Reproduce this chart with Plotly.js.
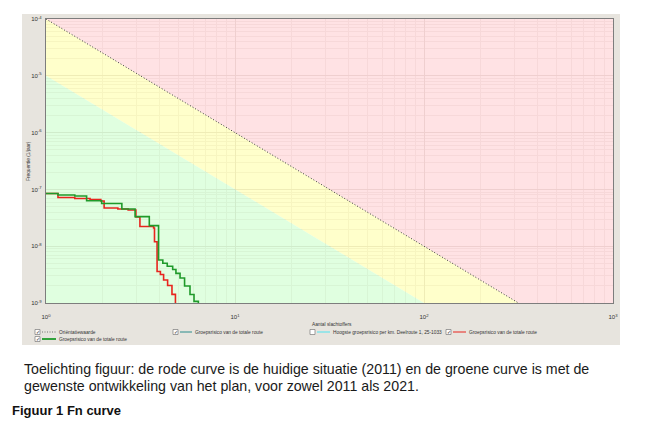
<!DOCTYPE html>
<html>
<head>
<meta charset="utf-8">
<script src="https://cdn.plot.ly/plotly-3.0.1.min.js"></script>
<style>
  html, body { margin: 0; padding: 0; background: #ffffff; }
  #chart { width: 667px; height: 433px; }
</style>
</head>
<body>
<div id="chart"></div>
<script>
// Fn curve: number of fatalities (N) against cumulative frequency (F, per year)
const redN   = [1, 1.157, 1.42, 1.71, 1.95, 2.03, 2.40, 2.72, 2.99, 3.14, 3.71, 3.75, 3.87, 4.03, 4.19, 4.40, 4.64, 4.84];
const redF   = [8.47e-8, 7.2e-8, 6.92e-8, 6.64e-8, 6.25e-8, 4.71e-8, 4.52e-8, 4.34e-8, 3.27e-8, 2.22e-8, 2.09e-8, 1.20e-8, 3.59e-9, 3.18e-9, 2.54e-9, 2.03e-9, 1.42e-9, 1e-10];
const greenN = [1, 1.157, 1.42, 1.64, 1.97, 2.52, 2.96, 3.52, 3.94, 4.15, 4.38, 4.68, 4.87, 5.12, 5.41, 5.78, 6.07, 6.40];
const greenF = [8.47e-8, 7.97e-8, 7.65e-8, 6.33e-8, 5.65e-8, 4.52e-8, 3.31e-8, 2.30e-8, 5.71e-9, 5.0e-9, 4.43e-9, 3.89e-9, 3.33e-9, 2.75e-9, 1.99e-9, 1.41e-9, 1.07e-9, 1e-10];

// Orientation value (oriëntatiewaarde) and the line one decade below it
const normN   = [1, 1000];
const orientF = [1e-4, 1e-10];
const lowerF  = [1e-5, 1e-11];
const ceilF   = 1e-4;
const floorF  = 1e-12;

// Axis ticks
const xTicks = [1, 10, 100, 1000];
const yTicks = [1e-9, 1e-8, 1e-7, 1e-6, 1e-5, 1e-4];
const powerLabel = v => '10<sup>' + Math.round(Math.log10(v)) + '</sup>';

// Legend entries below the chart
const legendRow1 = ['Oriëntatiewaarde', 'Groepsrisico van de totale route', 'Hoogste groepsrisico per km. Deelroute 1, 25-1033', 'Groepsrisico van de totale route'];
const legendRow2 = ['Groepsrisico van de totale route'];
const xTitle = 'Aantal slachtoffers';
const yTitle = 'Frequentie (1/jaar)';
const captionLines = [
  'Toelichting figuur: de rode curve is de huidige situatie (2011) en de groene curve is met de',
  'gewenste ontwikkeling van het plan, voor zowel 2011 als 2021.'
];
const figureTitle = 'Figuur 1 Fn curve';

// Plot-area geometry in pixels (used to place panel decorations)
const L = 46, T = 19, W = 567, H = 284;
const px = x => (x - L) / W;
const py = y => (T + H - y) / H;

const zoneAlpha = 0.75;
const traces = [
  { // red zone above the orientation value
    x: [normN[0], normN[1], normN[1], normN[0]],
    y: [orientF[0], orientF[1], ceilF, ceilF],
    mode: 'lines', fill: 'toself', line: { width: 0 },
    fillcolor: `rgba(255,216,219,${zoneAlpha})`, hoverinfo: 'skip'
  },
  { // yellow band
    x: [normN[0], normN[1], normN[1], normN[0]],
    y: [orientF[0], orientF[1], lowerF[1], lowerF[0]],
    mode: 'lines', fill: 'toself', line: { width: 0 },
    fillcolor: `rgba(255,255,186,${zoneAlpha})`, hoverinfo: 'skip'
  },
  { // green zone
    x: [normN[0], normN[1], normN[1], normN[0]],
    y: [lowerF[0], lowerF[1], floorF, floorF],
    mode: 'lines', fill: 'toself', line: { width: 0 },
    fillcolor: `rgba(214,255,214,${zoneAlpha})`, hoverinfo: 'skip'
  },
  { // orientation value line
    x: normN, y: orientF, mode: 'lines',
    line: { color: '#3a3a3a', width: 1, dash: '1px,2px' }, hoverinfo: 'skip'
  },
  {
    x: redN, y: redF, mode: 'lines',
    line: { color: '#e8251e', width: 1.6, shape: 'hv' }, hoverinfo: 'skip'
  },
  {
    x: greenN, y: greenF, mode: 'lines',
    line: { color: '#1f9a2a', width: 1.6, shape: 'hv' }, hoverinfo: 'skip'
  }
];

const smallFont = { family: 'Liberation Sans, Arial, sans-serif', size: 4.8, color: '#333333' };

const shapes = [
  // grey panel behind the chart
  { type: 'rect', xref: 'paper', yref: 'paper', layer: 'below',
    x0: px(22), x1: px(620), y0: py(345), y1: py(14),
    fillcolor: '#e7e4de', line: { width: 0 } },
  // white base of the plotting area
  { type: 'rect', xref: 'paper', yref: 'paper', layer: 'below',
    x0: 0, x1: 1, y0: 0, y1: 1, fillcolor: '#ffffff', line: { width: 0 } }
];
const annotations = [];

function checkbox(x, y, checked) {
  shapes.push({ type: 'rect', xref: 'paper', yref: 'paper',
    x0: px(x), x1: px(x + 5), y0: py(y + 2.5), y1: py(y - 2.5),
    fillcolor: '#ffffff', line: { color: '#7a7a7a', width: 0.7 } });
  if (checked) {
    annotations.push({ xref: 'paper', yref: 'paper', x: px(x + 2.5), y: py(y),
      text: '✓', showarrow: false, xanchor: 'center', yanchor: 'middle',
      font: { family: 'DejaVu Sans', size: 5, color: '#222' } });
  }
}
function legendLine(x0, x1, y, color, width, dash) {
  shapes.push({ type: 'line', xref: 'paper', yref: 'paper',
    x0: px(x0), x1: px(x1), y0: py(y), y1: py(y),
    line: { color: color, width: width, dash: dash || 'solid' } });
}
function legendText(x, y, txt) {
  annotations.push({ xref: 'paper', yref: 'paper', x: px(x), y: py(y),
    text: txt, showarrow: false, xanchor: 'left', yanchor: 'middle', font: smallFont });
}

// first legend row
const r1 = 332, r2 = 339;
checkbox(35, r1, true);  legendLine(42, 56, r1, '#555555', 0.8, '1px,1.5px'); legendText(57, r1, legendRow1[0]);
checkbox(173, r1, true); legendLine(180, 192, r1, '#2a8c8c', 1); legendText(193, r1, legendRow1[1]);
checkbox(310, r1, false); legendLine(317, 330, r1, '#4fe3f0', 1); legendText(331, r1, legendRow1[2]);
checkbox(446, r1, true); legendLine(453, 466, r1, '#e8251e', 1); legendText(467, r1, legendRow1[3]);
// second legend row
checkbox(35, r2, true);  legendLine(42, 56, r2, '#1f9a2a', 1.8); legendText(57, r2, legendRow2[0]);

// axis titles
annotations.push({ xref: 'paper', yref: 'paper', x: px(310), y: py(324), text: xTitle,
  showarrow: false, xanchor: 'left', yanchor: 'middle', font: smallFont });
annotations.push({ xref: 'paper', yref: 'paper', x: px(28), y: py(161), text: yTitle,
  textangle: -90, showarrow: false, xanchor: 'center', yanchor: 'middle', font: smallFont });

// caption under the figure
const capFont = { family: 'Liberation Sans, Arial, sans-serif', size: 14.2, color: '#1a1a1a' };
annotations.push({ xref: 'paper', yref: 'paper', x: px(22), y: py(369), text: captionLines[0],
  showarrow: false, xanchor: 'left', yanchor: 'middle', font: capFont });
annotations.push({ xref: 'paper', yref: 'paper', x: px(22), y: py(386), text: captionLines[1],
  showarrow: false, xanchor: 'left', yanchor: 'middle', font: capFont });
annotations.push({ xref: 'paper', yref: 'paper', x: px(10), y: py(410), text: '<b>' + figureTitle + '</b>',
  showarrow: false, xanchor: 'left', yanchor: 'middle',
  font: { family: 'Liberation Sans, Arial, sans-serif', size: 13, color: '#111111' } });

const tickFont = { family: 'Liberation Sans, Arial, sans-serif', size: 6, color: '#333333' };
const axisCommon = {
  type: 'log', showline: true, mirror: true, linecolor: '#7d7d7d', linewidth: 1.2,
  ticks: '', showgrid: true, gridcolor: 'rgb(190,180,170)', gridwidth: 1,
  minor: { showgrid: true, dtick: 'D1', gridcolor: 'rgb(222,216,210)', gridwidth: 1, ticks: '' },
  zeroline: false, tickfont: tickFont, fixedrange: true
};

const layout = {
  width: 667, height: 433,
  margin: { l: L, r: 667 - L - W, t: T, b: 433 - T - H, pad: 0 },
  paper_bgcolor: '#ffffff', plot_bgcolor: 'rgba(0,0,0,0)',
  showlegend: false,
  xaxis: Object.assign({}, axisCommon, {
    range: [0, 3], tickmode: 'array', tickvals: xTicks, ticktext: xTicks.map(powerLabel),
    ticklabelstandoff: 8
  }),
  yaxis: Object.assign({}, axisCommon, {
    range: [-9, -4], tickmode: 'array', tickvals: yTicks, ticktext: yTicks.map(powerLabel),
    ticklabelstandoff: 2
  }),
  shapes: shapes,
  annotations: annotations
};

Plotly.newPlot('chart', traces, layout, { staticPlot: true, displayModeBar: false });
</script>
</body>
</html>
